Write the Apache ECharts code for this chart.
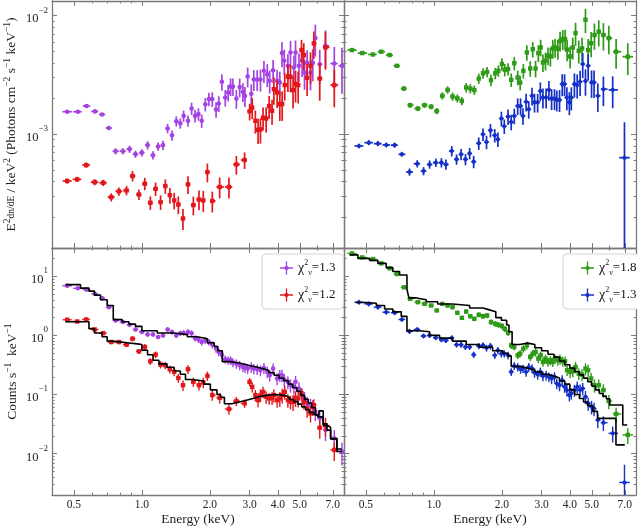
<!DOCTYPE html>
<html>
<head>
<meta charset="utf-8">
<script src="https://cdn.jsdelivr.net/npm/echarts@6/dist/echarts.min.js"></script>
<style>
  html, body { margin: 0; padding: 0; background: #fff; }
  #chart { width: 638px; height: 527px; }
</style>
</head>
<body>
<div id="chart"></div>
<script>
// ---- tick positions ----
const xMajor = [0.5, 1, 2, 3, 4, 5, 7];
const xMinor = [0.6, 0.7, 0.8, 0.9, 6];
const topYMajor = [1e-3, 1e-2];
const topYMinor = [2e-4, 3e-4, 4e-4, 5e-4, 6e-4, 7e-4, 8e-4, 9e-4, 2e-3, 3e-3, 4e-3, 5e-3, 6e-3, 7e-3, 8e-3, 9e-3];
const botYMajor = [1e-2, 1e-1, 1, 10];
const botYMinor = [3e-3, 4e-3, 5e-3, 6e-3, 7e-3, 8e-3, 9e-3, 2e-2, 3e-2, 4e-2, 5e-2, 6e-2, 7e-2, 8e-2, 9e-2,
  0.2, 0.3, 0.4, 0.5, 0.6, 0.7, 0.8, 0.9, 2, 3, 4, 5, 6, 7, 8, 9, 20, 30];

// ---- purple spectrum ----
const purpleE = [0.467,0.521,0.569,0.620,0.667,0.714,0.765,0.824,0.882,0.937,
  1.00,1.06,1.12,1.18,1.24,1.30,1.36,1.42,1.48,1.53,
  1.60,1.66,1.72,1.78,1.84,1.91,1.98,2.05,2.13,2.19,
  2.26,2.34,2.41,2.47,2.53,2.62,2.71,2.80,2.86,2.94,
  3.05,3.13,3.24,3.35,3.47,3.59,3.68,3.81,3.97,4.08,
  4.17,4.27,4.43,4.55,4.71,4.79,4.96,5.12,5.25,5.39,
  5.58,5.71,5.86,6.13,6.50,7.11,7.69];
const purpleFlux = [1.55e-3,1.55e-3,1.73e-3,1.56e-3,1.47e-3,1.13e-3,7.2e-4,7.2e-4,7.5e-4,6.8e-4,
  7.0e-4,8.1e-4,6.65e-4,7.9e-4,8.1e-4,1.12e-3,9.8e-4,1.29e-3,1.24e-3,1.43e-3,
  1.30e-3,1.65e-3,1.43e-3,1.48e-3,1.30e-3,1.79e-3,1.98e-3,1.98e-3,1.62e-3,1.82e-3,
  2.77e-3,2.04e-3,2.25e-3,2.53e-3,2.53e-3,2.0e-3,2.5e-3,2.28e-3,2.1e-3,3.07e-3,
  2.2e-3,2.9e-3,2.9e-3,2.9e-3,3.43e-3,3.2e-3,2.83e-3,3.47e-3,2.83e-3,2.74e-3,
  4.84e-3,4.17e-3,3.78e-3,4.9e-3,3.66e-3,4.9e-3,3.78e-3,4.17e-3,3.3e-3,4.0e-3,
  3.3e-3,4.0e-3,6.47e-3,3.9e-3,5.57e-3,3.95e-3,3.78e-3];
const purpleCounts = [6.9,6.26,5.94,5.02,4.25,3.0,1.79,1.68,1.51,1.26,
  1.14,1.04,1.04,0.94,1.0,1.26,1.14,1.0,1.09,1.1,
  1.14,1.09,0.90,0.85,0.773,0.824,0.773,0.70,0.6,0.524,
  0.473,0.395,0.38,0.38,0.35,0.333,0.313,0.293,0.285,0.275,
  0.293,0.275,0.268,0.258,0.282,0.242,0.212,0.275,0.187,0.212,
  0.212,0.18,0.164,0.144,0.135,0.164,0.127,0.098,0.086,0.071,
  0.066,0.062,0.051,0.040,0.0252,0.0182,0.0109];
const purpleErr = [0.03,0.03,0.03,0.03,0.03,0.04,
  0.06,0.06,0.07,0.07,0.07,0.08,0.08,0.08,0.09,
  0.09,0.1,0.1,0.1,0.11,0.11,0.12,0.12,0.12,0.13,0.13,0.13,
  0.14,0.15,0.15,0.16,0.16,0.16,0.17,0.17,0.18,0.18,0.18,0.19,0.19,
  0.2,0.2,0.2,0.21,0.21,0.22,0.22,0.22,0.23,0.23,0.24,0.24,
  0.25,0.25,0.26,0.26,0.27,0.27,0.28,0.28,0.29,0.3,0.3,
  0.32,0.35,0.38,0.42];
const purpleModelE = [0.459,0.535,0.583,0.617,0.656,0.702,0.747,0.818,0.876,0.937,
  1.00,1.17,1.39,1.59,1.76,1.95,2.09,2.17,2.27,2.45,
  2.65,2.85,3.05,3.25,3.45,3.65,3.85,4.05,4.25,4.45,
  4.65,4.85,5.05,5.25,5.45,5.65,5.87,6.08,6.35,6.6,
  6.85,7.3,7.68];
const purpleModelV = [7.2,6.3,5.6,4.8,4.0,3.2,1.85,1.7,1.55,1.42,
  1.2,1.1,1.03,0.95,0.88,0.75,0.65,0.55,0.36,0.345,
  0.325,0.305,0.29,0.272,0.255,0.235,0.212,0.19,0.172,0.15,
  0.132,0.114,0.097,0.083,0.072,0.06,0.045,0.053,0.03,0.028,
  0.0177,0.0109,0.0109];

// ---- red spectrum ----
const redE = [0.467,0.517,0.567,0.618,0.674,0.732,0.791,0.855,0.909,0.970,
  1.03,1.09,1.15,1.21,1.27,1.33,1.39,1.45,1.52,1.60,
  1.69,1.79,1.87,1.95,2.05,2.21,2.43,2.62,2.85,3.00,
  3.08,3.18,3.27,3.35,3.44,3.55,3.66,3.77,3.84,3.97,
  4.08,4.18,4.29,4.43,4.55,4.67,4.79,4.92,5.09,5.21,
  5.39,5.58,5.77,6.13,6.50,7.11];
const redFlux = [4.04e-4,4.17e-4,5.5e-4,3.95e-4,3.9e-4,2.95e-4,3.3e-4,3.36e-4,4.45e-4,3.11e-4,
  3.83e-4,2.65e-4,3.47e-4,2.68e-4,3.66e-4,3.07e-4,2.77e-4,2.56e-4,1.95e-4,3.78e-4,
  2.53e-4,2.82e-4,2.77e-4,4.8e-4,2.74e-4,3.6e-4,3.6e-4,5.57e-4,6.07e-4,1.56e-3,
  1.68e-3,1.30e-3,1.09e-3,1.10e-3,1.38e-3,1.36e-3,1.73e-3,1.58e-3,2.4e-3,2.25e-3,
  1.8e-3,1.8e-3,2.6e-3,3.07e-3,3.05e-3,2.36e-3,2.65e-3,2.6e-3,5.13e-3,4.66e-3,
  3.0e-3,3.78e-3,5.84e-3,2.95e-3,5.4e-3,2.6e-3];
const redCounts = [1.84,1.72,1.86,1.26,1.09,0.773,0.773,0.697,0.879,0.538,
  0.637,0.365,0.473,0.321,0.313,0.268,0.242,0.191,0.144,0.268,
  0.164,0.144,0.16,0.207,0.098,0.088,0.057,0.0776,0.071,0.164,
  0.135,0.098,0.0806,0.098,0.111,0.092,0.086,0.088,0.098,0.0806,
  0.086,0.098,0.111,0.0806,0.0755,0.0755,0.088,0.086,0.105,0.0755,
  0.058,0.048,0.0664,0.0276,0.03,0.0116];
const redErr = [0.05,0.05,0.05,0.06,0.06,0.08,0.08,0.09,0.1,0.1,
  0.12,0.13,0.13,0.14,0.14,0.15,0.16,0.17,0.2,0.17,
  0.18,0.19,0.2,0.18,0.2,0.2,0.2,0.18,0.16,0.16,
  0.2,0.22,0.24,0.24,0.22,0.24,0.22,0.24,0.26,0.26,
  0.28,0.28,0.26,0.26,0.26,0.3,0.3,0.3,0.22,0.26,
  0.3,0.3,0.26,0.35,0.35,0.35];
const redModelE = [0.459,0.583,0.617,0.667,0.702,0.739,0.861,0.953,1.00,1.06,
  1.12,1.19,1.29,1.39,1.48,1.56,1.67,1.88,2.01,2.15,
  2.23,2.32,2.5,2.7,2.9,3.1,3.3,3.5,3.7,3.9,
  4.1,4.3,4.5,4.7,4.9,5.1,5.3,5.5,5.75,6.0,
  6.35,6.6,6.85,7.3,7.68];
const redModelV = [1.7,1.3,1.1,0.95,0.8,0.75,0.72,0.7,0.56,0.47,
  0.38,0.33,0.29,0.25,0.22,0.18,0.17,0.15,0.12,0.1,
  0.09,0.07,0.075,0.08,0.086,0.092,0.096,0.099,0.1,0.099,
  0.096,0.09,0.083,0.076,0.069,0.062,0.056,0.05,0.046,0.042,
  0.032,0.025,0.018,0.012,0.012];

// ---- green spectrum ----
const greenE = [0.434,0.482,0.537,0.585,0.637,0.686,0.737,0.785,0.849,0.909,
  0.973,1.03,1.09,1.15,1.21,1.27,1.33,1.39,1.45,1.51,
  1.58,1.65,1.72,1.79,1.87,1.93,2.00,2.06,2.13,2.20,
  2.27,2.35,2.41,2.49,2.58,2.67,2.74,2.82,2.90,2.97,
  3.04,3.12,3.20,3.28,3.36,3.44,3.54,3.62,3.72,3.81,
  3.89,4.01,4.12,4.24,4.38,4.53,4.69,4.82,4.97,5.14,
  5.37,5.63,5.95,6.41,7.22];
const greenFlux = [5.13e-3,4.84e-3,4.71e-3,4.97e-3,4.66e-3,3.78e-3,2.43e-3,1.76e-3,1.65e-3,1.76e-3,
  1.71e-3,1.57e-3,2.11e-3,2.37e-3,2.08e-3,2.01e-3,1.91e-3,2.48e-3,2.43e-3,2.36e-3,
  2.95e-3,3.27e-3,3.36e-3,2.86e-3,3.27e-3,3.43e-3,3.91e-3,3.50e-3,3.55e-3,2.88e-3,
  3.98e-3,3.01e-3,2.73e-3,3.43e-3,4.9e-3,3.59e-3,5.22e-3,3.59e-3,4.84e-3,5.4e-3,
  4.03e-3,4.17e-3,4.6e-3,4.55e-3,5.3e-3,5.4e-3,5.25e-3,6.15e-3,6.35e-3,6.35e-3,
  5.17e-3,4.53e-3,5.4e-3,7.14e-3,5.06e-3,5.3e-3,9.25e-3,5.13e-3,5.87e-3,6.87e-3,
  7.33e-3,6.87e-3,6.47e-3,4.97e-3,4.51e-3];
const greenCounts = [24.3,20.8,19.5,16.5,13.6,10.9,6.5,4.14,3.64,3.41,
  3.2,2.64,3.41,3.2,3.0,2.41,1.98,2.53,2.11,1.91,
  2.23,2.11,2.17,1.68,1.57,1.51,1.44,1.29,1.11,0.679,
  0.637,0.461,0.492,0.597,0.679,0.432,0.492,0.524,0.405,0.461,
  0.356,0.405,0.356,0.38,0.356,0.405,0.38,0.395,0.365,0.365,
  0.258,0.242,0.248,0.293,0.226,0.218,0.275,0.258,0.187,0.144,
  0.144,0.119,0.0776,0.047,0.0208];
const greenErr = [0.025,0.025,0.025,0.025,0.025,0.025,
  0.04,0.05,0.05,0.05,0.05,0.06,
  0.07,0.07,0.08,0.08,0.08,0.09,0.09,0.09,
  0.1,0.1,0.1,0.11,0.11,0.11,0.12,0.12,0.12,0.13,
  0.13,0.14,0.14,0.14,0.15,0.15,0.15,0.16,0.16,0.16,
  0.17,0.17,0.17,0.18,0.18,0.18,0.19,0.19,0.19,0.2,
  0.2,0.21,0.21,0.22,0.22,0.23,0.23,0.24,0.24,0.25,
  0.25,0.26,0.27,0.28,0.3];
const greenModelE = [0.423,0.461,0.520,0.565,0.615,0.658,0.705,0.760,0.775,0.836,
  0.925,1.04,1.21,1.44,1.65,1.76,1.88,1.99,2.10,2.15,
  2.22,2.4,2.6,2.8,3.0,3.2,3.4,3.6,3.8,4.0,
  4.2,4.4,4.6,4.8,5.0,5.2,5.41,5.6,5.8,6.0,
  6.86,7.18];
const greenModelV = [23,20,18.5,16.5,14,12,10.5,6,4.3,4.0,
  3.7,3.4,3.2,2.9,2.7,2.5,2.0,1.8,1.5,1.15,
  0.7,0.74,0.7,0.62,0.55,0.48,0.43,0.37,0.32,0.28,
  0.245,0.215,0.19,0.165,0.14,0.12,0.104,0.094,0.085,0.0665,
  0.0306,0.0306];

// ---- blue spectrum ----
const blueE = [0.466,0.515,0.565,0.615,0.670,0.721,0.780,0.844,0.900,0.957,
  1.02,1.08,1.13,1.20,1.26,1.32,1.38,1.44,1.50,1.58,
  1.65,1.71,1.78,1.86,1.92,1.99,2.05,2.13,2.20,2.27,
  2.35,2.42,2.48,2.56,2.63,2.72,2.79,2.88,2.96,3.04,
  3.14,3.23,3.32,3.42,3.50,3.60,3.70,3.79,3.88,3.98,
  4.06,4.19,4.31,4.44,4.56,4.69,4.82,4.99,5.12,5.32,
  5.63,6.19,6.98];
const blueFlux = [7.97e-4,8.5e-4,8.34e-4,8.13e-4,8.1e-4,6.78e-4,4.81e-4,5.65e-4,4.9e-4,5.57e-4,
  5.77e-4,5.77e-4,5.57e-4,7.23e-4,6.15e-4,6.78e-4,6.15e-4,6.9e-4,5.88e-4,8.4e-4,
  1.0e-3,8.61e-4,1.08e-3,9.8e-4,9.07e-4,1.36e-3,1.17e-3,1.41e-3,1.27e-3,1.43e-3,
  1.73e-3,1.73e-3,1.43e-3,1.88e-3,1.63e-3,2.11e-3,1.86e-3,1.86e-3,2.32e-3,2.04e-3,
  2.04e-3,2.37e-3,2.0e-3,2.0e-3,1.95e-3,1.95e-3,2.65e-3,2.65e-3,2.04e-3,1.86e-3,
  2.04e-3,2.65e-3,2.6e-3,2.77e-3,3.91e-3,2.82e-3,3.78e-3,2.74e-3,2.74e-3,2.11e-3,
  2.4e-3,2.37e-3,6.35e-4];
const blueCounts = [3.64,3.41,3.0,2.47,2.41,1.86,1.17,1.26,0.975,1.0,
  0.914,0.845,0.824,0.902,0.697,0.697,0.637,0.637,0.473,0.662,
  0.679,0.612,0.662,0.461,0.56,0.492,0.492,0.461,0.242,0.305,
  0.293,0.268,0.275,0.242,0.293,0.275,0.235,0.218,0.242,0.207,
  0.212,0.199,0.187,0.199,0.154,0.144,0.175,0.135,0.119,0.098,
  0.105,0.119,0.135,0.119,0.127,0.0916,0.071,0.0621,0.058,0.0371,
  0.0335,0.0221,0.00327];
const blueErr = [0.04,0.04,0.04,0.04,0.04,0.04,
  0.07,0.07,0.08,0.08,0.08,0.09,
  0.1,0.1,0.1,0.11,0.11,0.11,0.12,0.12,
  0.12,0.13,0.13,0.13,0.14,0.14,0.14,0.15,0.15,0.15,
  0.16,0.16,0.16,0.17,0.17,0.17,0.18,0.18,0.18,0.19,
  0.19,0.19,0.2,0.2,0.2,0.21,0.21,0.21,0.22,0.22,
  0.22,0.23,0.23,0.24,0.24,0.25,0.25,0.26,0.26,0.27,
  0.28,0.3,0.99];
const blueModelE = [0.450,0.502,0.556,0.605,0.658,0.717,0.760,0.864,0.957,1.06,
  1.21,1.39,1.59,1.82,2.02,2.13,2.20,2.4,2.6,2.8,
  3.0,3.2,3.4,3.6,3.8,4.0,4.2,4.41,4.6,4.8,
  5.05,5.3,6.4,7.0];
const blueModelV = [3.6,3.5,3.2,2.8,2.5,2.1,1.2,1.15,1.0,0.9,
  0.8,0.7,0.63,0.55,0.5,0.45,0.3,0.28,0.26,0.24,
  0.22,0.205,0.19,0.17,0.15,0.12,0.1,0.086,0.075,0.065,
  0.052,0.0396,0.0141,0.0141];

const chiLabels = { P: '1.3', R: '1.2', G: '1.8', B: '1.3' };

// ---- helpers ----
const serif = "'Liberation Serif', 'DejaVu Serif', serif";
const axisColor = '#7a7a7a';
const xMin = 0.4, xMax = 7.85;
const topYMin = 1.1e-4, topYMax = 1.33e-2;
const botYMin = 2e-3, botYMax = 30;

function binned(E, V, Err) {
  return E.map((e, i) => {
    const prev = i > 0 ? E[i - 1] : e * e / E[i + 1];
    const next = i < E.length - 1 ? E[i + 1] : e * e / E[i - 1];
    return [e, V[i], Err[i], e * Math.pow(prev / e, 0.45), e * Math.pow(next / e, 0.45)];
  });
}

function supLabel(v) {
  const e = Math.round(Math.log10(v));
  return '{b|10}{s|' + (e < 0 ? '\u2212' + (-e) : e) + '}';
}
const supRich = {
  b: { fontSize: 12.5, fontFamily: serif, color: '#222', lineHeight: 20, verticalAlign: 'bottom' },
  s: { fontSize: 9, fontFamily: serif, color: '#222', lineHeight: 10, verticalAlign: 'top' }
};

const grids = [
  { left: 52, top: 1, width: 292, height: 247 },
  { left: 344, top: 1, width: 292, height: 247 },
  { left: 52, top: 248, width: 292, height: 248 },
  { left: 344, top: 248, width: 292, height: 248 }
];

let xAxes = [], yAxes = [];
let xMain = [], yMain = [];

function mkAxis(extra, grid, pos, ticks, len, line) {
  return Object.assign({
    type: 'log', logBase: 10, gridIndex: grid, position: pos,
    axisLine: { show: line, lineStyle: { color: axisColor, width: 1.3 } },
    axisTick: { show: true, inside: true, length: len, customValues: ticks,
      lineStyle: { color: axisColor, width: 1 } },
    axisLabel: { show: false },
    splitLine: { show: false }
  }, extra);
}

grids.forEach((g, gi) => {
  const isBottom = gi >= 2, isLeft = gi % 2 === 0;
  const xr = { min: xMin, max: xMax };
  xMain.push(xAxes.length);
  let mainX = mkAxis(xr, gi, 'bottom', xMajor, 5, true);
  if (isBottom) {
    mainX.axisLabel = { show: true, customValues: xMajor, margin: 4, fontSize: 11.5,
      fontFamily: serif, color: '#222', formatter: v => v.toFixed(1) };
    mainX.name = 'Energy (keV)';
    mainX.nameLocation = 'middle';
    mainX.nameGap = 16;
    mainX.nameTextStyle = { fontSize: 13.5, fontFamily: serif, color: '#222' };
  }
  xAxes.push(mainX);
  xAxes.push(mkAxis(xr, gi, 'bottom', xMinor, 2.5, false));
  xAxes.push(mkAxis(xr, gi, 'top', xMajor, 5, true));
  xAxes.push(mkAxis(xr, gi, 'top', xMinor, 2.5, false));

  const yr = isBottom ? { min: botYMin, max: botYMax } : { min: topYMin, max: topYMax };
  const maj = isBottom ? botYMajor : topYMajor;
  const mnr = isBottom ? botYMinor : topYMinor;
  yMain.push(yAxes.length);
  let mainY = mkAxis(yr, gi, 'left', maj, 5, true);
  if (isLeft) {
    mainY.axisLabel = { show: true, customValues: maj, margin: 4, formatter: supLabel, rich: supRich };
    mainY.nameLocation = 'middle';
    mainY.nameRotate = 90;
    mainY.nameTextStyle = { fontSize: 13.5, fontFamily: serif, color: '#222', lineHeight: 19,
      rich: {
        s: { fontSize: 9.5, fontFamily: serif, color: '#222', lineHeight: 10, verticalAlign: 'top' },
        f: { fontSize: 9.5, fontFamily: serif, color: '#222', lineHeight: 19 }
      } };
    if (isBottom) {
      mainY.name = 'Counts s{s|\u22121}  keV{s|\u22121}';
      mainY.nameGap = 30;
    } else {
      mainY.name = 'E{s|2}{f|dn/dE} / keV{s|2} (Photons cm{s|\u22122} s{s|\u22121} keV{s|\u22121})';
      mainY.nameGap = 31;
    }
  }
  yAxes.push(mainY);
  yAxes.push(mkAxis(yr, gi, 'left', mnr, 2.5, false));
  yAxes.push(mkAxis(yr, gi, 'right', maj, 5, true));
  yAxes.push(mkAxis(yr, gi, 'right', mnr, 2.5, false));
});

function errorBars(shape, lw, size) {
  return function (params, api) {
    const x = api.value(0), y = api.value(1), e = api.value(2);
    const c = api.coord([x, y]);
    const up = api.coord([x, y * (1 + e)]);
    const dn = api.coord([x, y * Math.max(1 - e, 1e-3)]);
    const l = api.coord([api.value(3), y]);
    const r = api.coord([api.value(4), y]);
    const color = api.visual('color');
    const st = { stroke: color, lineWidth: lw };
    let mark;
    if (shape === 'circle') {
      mark = { type: 'circle', shape: { cx: c[0], cy: c[1], r: size }, style: { fill: color } };
    } else if (shape === 'rect') {
      mark = { type: 'rect', shape: { x: c[0] - size, y: c[1] - size, width: 2 * size, height: 2 * size },
        style: { fill: color } };
    } else {
      mark = { type: 'polygon', shape: { points: [[c[0], c[1] - size], [c[0] + size, c[1]],
        [c[0], c[1] + size], [c[0] - size, c[1]]] }, style: { fill: color } };
    }
    return { type: 'group', children: [
      { type: 'line', shape: { x1: c[0], y1: up[1], x2: c[0], y2: dn[1] }, style: st },
      { type: 'line', shape: { x1: l[0], y1: c[1], x2: r[0], y2: c[1] }, style: st },
      mark
    ] };
  };
}

const spectra = [
  { name: 'P', color: '#a443e4', shape: 'circle', size: 2.3, col: 0, E: purpleE, flux: purpleFlux, counts: purpleCounts, err: purpleErr, mE: purpleModelE, mV: purpleModelV },
  { name: 'R', color: '#e3161b', shape: 'rect', size: 2.2, col: 0, E: redE, flux: redFlux, counts: redCounts, err: redErr, mE: redModelE, mV: redModelV },
  { name: 'G', color: '#2e9a17', shape: 'rect', size: 2.2, col: 1, E: greenE, flux: greenFlux, counts: greenCounts, err: greenErr, mE: greenModelE, mV: greenModelV },
  { name: 'B', color: '#1530c8', shape: 'diamond', size: 2.8, col: 1, E: blueE, flux: blueFlux, counts: blueCounts, err: blueErr, mE: blueModelE, mV: blueModelV }
];

let series = [];
spectra.forEach(s => {
  const topG = s.col, botG = s.col + 2;
  series.push({
    type: 'custom', name: s.name, xAxisIndex: xMain[topG], yAxisIndex: yMain[topG],
    itemStyle: { color: s.color }, clip: true, encode: { x: 0, y: 1 },
    renderItem: errorBars(s.shape, 1.7, s.size), data: binned(s.E, s.flux, s.err)
  });
  series.push({
    type: 'custom', name: s.name, xAxisIndex: xMain[botG], yAxisIndex: yMain[botG],
    itemStyle: { color: s.color }, clip: true, encode: { x: 0, y: 1 },
    renderItem: errorBars(s.shape, 1.4, s.size), data: binned(s.E, s.counts, s.err)
  });
});
spectra.forEach(s => {
  const botG = s.col + 2;
  series.push({
    type: 'line', name: 'model ' + s.name, xAxisIndex: xMain[botG], yAxisIndex: yMain[botG],
    step: 'end', showSymbol: false, symbol: 'none', z: 5, silent: true,
    lineStyle: { color: '#000', width: 1.6 },
    data: s.mE.map((e, i) => [e, s.mV[i]])
  });
});

const crossIcon = 'path://M0,6.3H14V7.7H0Z M6.3,0H7.7V14H6.3Z M7,4.6L8.7,5.3L9.4,7L8.7,8.7L7,9.4L5.3,8.7L4.6,7L5.3,5.3Z';
function legendFor(names, left) {
  return {
    data: names.map(n => ({ name: n, icon: crossIcon })),
    left: left, top: 254, orient: 'vertical',
    backgroundColor: '#fff', borderColor: '#d4d4d4', borderWidth: 1, borderRadius: 4,
    padding: [5, 8, 5, 18], itemGap: 9, itemWidth: 13, itemHeight: 13,
    formatter: n => '{c|\u03c7}{t|2}{v|\u03bd}{e|=' + chiLabels[n] + '}',
    textStyle: { fontFamily: serif, fontSize: 13, color: '#111', lineHeight: 18,
      rich: {
        c: { fontSize: 14, fontFamily: serif, lineHeight: 18, verticalAlign: 'middle' },
        t: { fontSize: 8, fontFamily: serif, lineHeight: 8, verticalAlign: 'top' },
        v: { fontSize: 8, fontFamily: serif, lineHeight: 8, verticalAlign: 'bottom' },
        e: { fontSize: 13, fontFamily: serif, lineHeight: 18, verticalAlign: 'middle' }
      } }
  };
}

const chart = echarts.init(document.getElementById('chart'));
chart.setOption({
  animation: false,
  backgroundColor: '#fff',
  textStyle: { fontFamily: serif },
  grid: grids,
  xAxis: xAxes,
  yAxis: yAxes,
  legend: [legendFor(['P', 'R'], 262), legendFor(['G', 'B'], 563)],
  series: series
});
</script>
</body>
</html>
